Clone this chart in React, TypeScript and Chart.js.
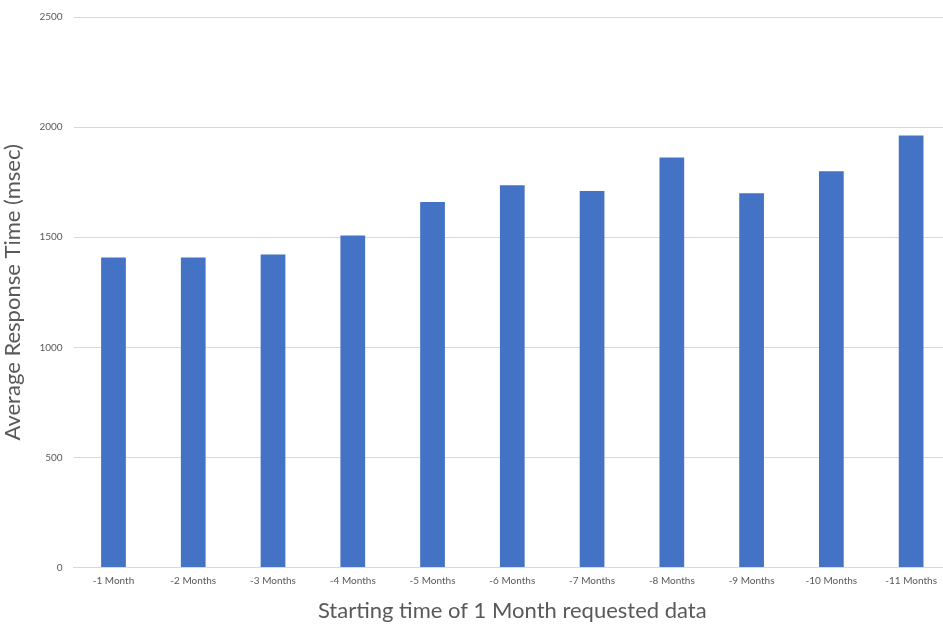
import React, { useEffect, useRef } from "react";
import { Chart, registerables } from "chart.js";

Chart.register(...registerables);

const categories = [
  "-1 Month", "-2 Months", "-3 Months", "-4 Months", "-5 Months", "-6 Months",
  "-7 Months", "-8 Months", "-9 Months", "-10 Months", "-11 Months",
];
const responseTimes = [1408, 1408, 1422, 1508, 1660, 1736, 1710, 1862, 1700, 1800, 1962];
const yTicks = [0, 500, 1000, 1500, 2000, 2500];

const FONT = "Lato, 'Open Sans', sans-serif";

export default function App() {
  const ref = useRef<HTMLCanvasElement>(null);
  useEffect(() => {
    if (!ref.current) return;
    const chart = new Chart(ref.current, {
      type: "bar",
      data: {
        labels: categories,
        datasets: [
          {
            label: "Average Response Time",
            data: responseTimes,
            backgroundColor: "#4472C4",
            borderWidth: 0,
            barPercentage: 0.62,
            categoryPercentage: 0.5,
          },
        ],
      },
      options: {
        responsive: false,
        animation: false,
        maintainAspectRatio: false,
        layout: { padding: { top: 4, right: 0, bottom: 0, left: 0 } },
        plugins: { legend: { display: false }, tooltip: { enabled: false } },
        scales: {
          x: {
            grid: { display: false, drawTicks: false },
            border: { display: true, color: "#d9d9d9", width: 1 },
            ticks: { color: "#595959", font: { family: FONT, size: 10 }, padding: 7, maxRotation: 0, autoSkip: false },
            title: {
              display: true,
              text: "Starting time of 1 Month requested data",
              color: "#595959",
              font: { family: FONT, size: 22 },
              padding: { top: 4, bottom: 0 },
            },
          },
          y: {
            min: 0,
            max: 2500,
            afterBuildTicks: (axis: any) => {
              axis.ticks = yTicks.map((v) => ({ value: v }));
            },
            grid: { color: "#d9d9d9", drawTicks: false },
            border: { display: false },
            ticks: {
              color: "#595959",
              font: { family: FONT, size: 10 },
              padding: 11,
              callback: (v: any) => String(v),
            },
            title: {
              display: true,
              text: "Average Response Time (msec)",
              color: "#595959",
              font: { family: FONT, size: 22 },
              padding: { top: 0, bottom: 2 },
            },
          },
        },
      },
    });
    return () => chart.destroy();
  }, []);
  return (
    <div style={{ position: "fixed", left: 0, top: 0, width: 943, height: 624, overflow: "hidden", background: "#fff" }}>
      <canvas ref={ref} width={951} height={624} style={{ display: "block" }} />
    </div>
  );
}
